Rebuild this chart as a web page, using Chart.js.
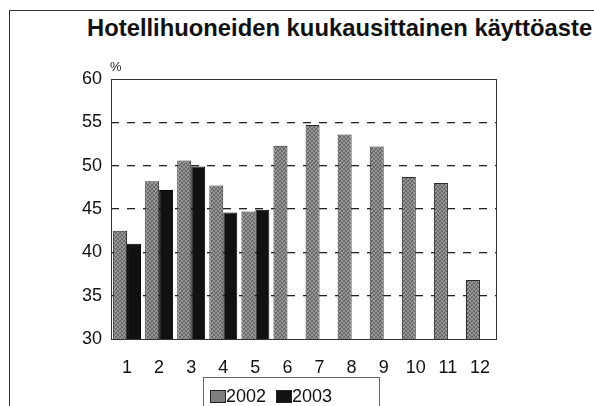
<!DOCTYPE html>
<html>
<head>
<meta charset="utf-8">
<script src="https://cdn.jsdelivr.net/npm/chart.js@4"></script>
<style>
    html, body { margin: 0; padding: 0; background: #fff; }
    #page { position: relative; width: 594px; height: 406px; overflow: hidden; font-family: "Liberation Sans", Arial, sans-serif; }
    #frame { position: absolute; left: 9px; top: 10px; width: 700px; height: 500px; border-left: 1.5px solid #333; border-top: 1.5px solid #333; }
    #title { position: absolute; left: 87px; top: 14px; font-size: 23.8px; line-height: 28px; font-weight: bold; color: #111; white-space: nowrap; }
    #chart { position: absolute; left: 0; top: 0; }
    #legend { position: absolute; left: 203px; top: 377px; width: 177px; height: 60px; border: 1px solid #666; box-sizing: border-box; padding: 8px 0 0 6px; font-size: 18px; color: #111; white-space: nowrap; }
    .lg-item { display: inline-block; margin-right: 10px; }
    .lg-box { display: inline-block; width: 16px; height: 13px; border: 1px solid #222; vertical-align: -1px; box-sizing: border-box; }
</style>
</head>
<body>
<div id="page">
    <div id="frame"></div>
    <div id="title">Hotellihuoneiden kuukausittainen käyttöaste</div>
    <canvas id="chart" width="594" height="406"></canvas>
    <div id="legend"></div>
</div>
<script>
// ─── Data ────────────────────────────────────────────
var months  = ['1', '2', '3', '4', '5', '6', '7', '8', '9', '10', '11', '12'];
var occ2002 = [42.5, 48.2, 50.6, 47.7, 44.7, 52.3, 54.7, 53.6, 52.2, 48.7, 48.0, 36.8];
var occ2003 = [41.0, 47.2, 49.9, 44.6, 44.9, null, null, null, null, null, null, null];
var yMin = 30, yMax = 60, yStep = 5;
var unitLabel = '%';

// ─── Helpers ─────────────────────────────────────────

// speckled grey, like the halftone of the scanned original
function greyPattern() {
    var c = document.createElement('canvas');
    c.width = 4; c.height = 4;
    var g = c.getContext('2d');
    var shades = ['#5e5e5e', '#8a8a8a', '#777777', '#a2a2a2'];
    var map = [[0, 3, 1, 2], [2, 1, 3, 0], [3, 0, 2, 1], [1, 2, 0, 3]];
    for (var y = 0; y < 4; y++) {
        for (var x = 0; x < 4; x++) {
            g.fillStyle = shades[map[y][x]];
            g.fillRect(x, y, 1, 1);
        }
    }
    return g.createPattern(c, 'repeat');
}

var frameAndUnit = {
    id: 'frameAndUnit',
    afterDraw: function(chart) {
        var a = chart.chartArea, ctx = chart.ctx;
        ctx.save();
        ctx.strokeStyle = '#333';
        ctx.lineWidth = 1;
        ctx.strokeRect(Math.round(a.left) + 0.5, Math.round(a.top) + 0.5, Math.round(a.right - a.left), Math.round(a.bottom - a.top));
        ctx.fillStyle = '#222';
        ctx.font = '13px "Liberation Sans", Arial, sans-serif';
        ctx.textAlign = 'left';
        ctx.textBaseline = 'alphabetic';
        ctx.fillText(unitLabel, a.left - 1, a.top - 8);
        ctx.restore();
    }
};

var series = [
    { label: '2002', data: occ2002, fill: greyPattern(), swatch: '#7e7e7e', border: '#2a2a2a' },
    { label: '2003', data: occ2003, fill: '#111', swatch: '#111', border: '#000' }
];

var tickFont = { family: '"Liberation Sans", Arial, sans-serif', size: 18 };

// ─── Chart ───────────────────────────────────────────

var chart = new Chart(document.getElementById('chart').getContext('2d'), {
    type: 'bar',
    data: {
        labels: months,
        datasets: series.map(function(s) {
            return {
                label: s.label, data: s.data,
                backgroundColor: s.fill, borderColor: s.border,
                borderWidth: 1, borderSkipped: 'start',
                categoryPercentage: 0.87, barPercentage: 1.0
            };
        })
    },
    options: {
        responsive: false, animation: false,
        layout: { padding: { top: 79, right: 98, bottom: 0, left: 0 } },
        plugins: { legend: { display: false }, title: { display: false }, tooltip: { enabled: false } },
        scales: {
            x: {
                grid: { display: false },
                border: { display: false },
                ticks: { color: '#111', padding: 10, font: tickFont },
                afterFit: function(s) { s.height = 67; }
            },
            y: {
                min: yMin, max: yMax,
                grid: {
                    // outer edges come from the frame, only inner lines are dashed
                    color: function(c) { return (c.tick && (c.tick.value === yMin || c.tick.value === yMax)) ? 'rgba(0,0,0,0)' : '#222'; },
                    lineWidth: 1.3, drawTicks: false
                },
                border: { display: false, dash: [8, 8] },
                ticks: { stepSize: yStep, color: '#111', padding: 9, font: tickFont },
                afterFit: function(s) { s.width = 111; }
            }
        }
    },
    plugins: [frameAndUnit]
});

// ─── Legend ──────────────────────────────────────────

var legend = document.getElementById('legend');
series.forEach(function(s) {
    var item = document.createElement('span');
    item.className = 'lg-item';
    item.innerHTML = '<span class="lg-box" style="background:' + s.swatch + '"></span>' + s.label;
    legend.appendChild(item);
});
</script>
</body>
</html>
